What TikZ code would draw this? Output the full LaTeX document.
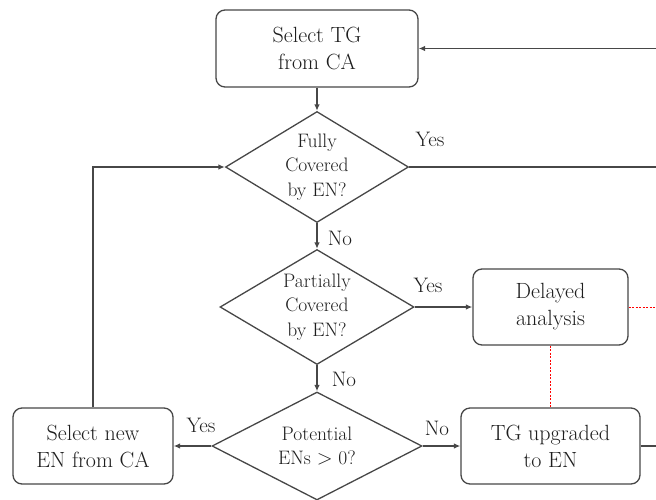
\documentclass[tikz,border=0pt]{standalone}
\usetikzlibrary{shapes.geometric,arrows.meta}
\definecolor{ink}{HTML}{1E1E1E}
\definecolor{edge}{HTML}{474747}
\begin{document}
\begin{tikzpicture}[x=1pt,y=-1pt,
  box/.style={draw=edge, line width=1.3pt, rounded corners=9pt, fill=white,
    text=ink, align=center, font=\fontsize{22}{27}\selectfont, inner sep=0pt},
  dia/.style={diamond, draw=edge, line width=1.3pt, fill=white, text=ink,
    align=center, font=\fontsize{19.5}{24.5}\selectfont, inner sep=-4pt},
  lbl/.style={text=ink, font=\fontsize{21}{25}\selectfont, inner sep=0pt},
  flow/.style={draw=edge, line width=1.3pt, -{Latex[length=6.5pt,width=5.5pt]}},
  link/.style={draw=edge, line width=1.3pt},
  hint/.style={draw=red, line width=0.8pt, dash pattern=on 2pt off 1.5pt}]
\useasboundingbox (0,0) rectangle (656,499);
\clip (0,0) rectangle (656,499);

% process boxes
\node[box, minimum width=202pt, minimum height=77pt] (sel) at (317,48.5) {Select TG\\from CA};
\node[box, minimum width=155pt, minimum height=76pt] (delay) at (550.5,307) {Delayed\\analysis};
\node[box, minimum width=179pt, minimum height=76pt] (up) at (550.5,446) {TG upgraded\\to EN};
\node[box, minimum width=160pt, minimum height=76pt] (newen) at (93,446) {Select new\\EN from CA};

% decisions
\node[dia, aspect=1.65, minimum width=183pt, minimum height=111pt] (d1) at (317,167) {Fully\\Covered\\by EN?};
\node[dia, aspect=1.69, minimum width=194pt, minimum height=115pt] (d2) at (317,307) {Partially\\Covered\\by EN?};
\node[dia, aspect=1.94, minimum width=210pt, minimum height=108pt] (d3) at (317,446) {Potential\\ENs $>$ 0?};

% loose ends leaving the page on the right
\coordinate (rA) at (664,48.5);
\coordinate (rB) at (664,167);
\coordinate (rD) at (664,307);
\coordinate (rC) at (664,446);

% connectors
\draw[flow] (sel.south) -- (d1.north);
\draw[flow] (d1.south) -- (d2.north);
\draw[flow] (d2.south) -- (d3.north);
\draw[flow] (d2.east) -- (delay.west);
\draw[flow] (d3.east) -- (up.west);
\draw[flow] (d3.west) -- (newen.east);
\draw[flow] (newen.north) |- (d1.west);
\draw[flow] (rA) -- (sel.east);
\draw[link] (d1.east) -- (rB);
\draw[link] (up.east) -- (rC);
\draw[hint] (delay.east) -- (rD);
\draw[hint] (delay.south) -- (up.north);

% branch labels
\node[lbl] at (430,139) {Yes};
\node[lbl] at (340,238) {No};
\node[lbl] at (428,285) {Yes};
\node[lbl] at (344,379) {No};
\node[lbl] at (201,425) {Yes};
\node[lbl] at (437,428) {No};
\end{tikzpicture}
\end{document}
